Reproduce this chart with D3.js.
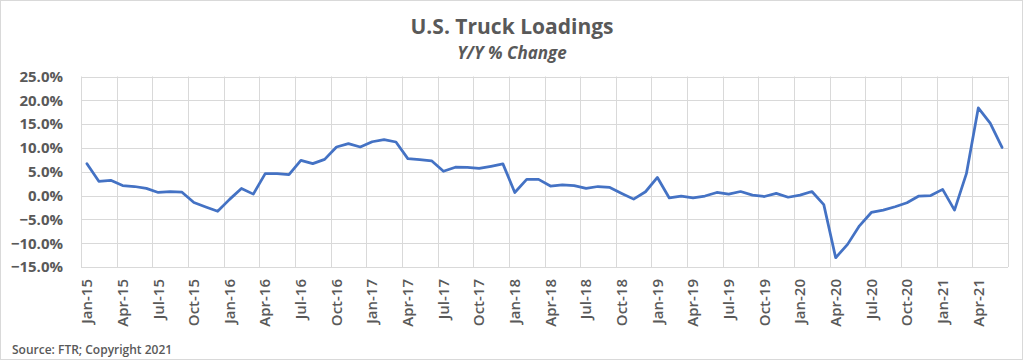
<!DOCTYPE html>
<html>
<head>
<meta charset="utf-8">
<script src="https://cdn.jsdelivr.net/npm/d3@7"></script>
<style>
  body { margin: 0; background: #fff; }
  svg { display: block; }
  text { fill: #595959; font-family: "Open Sans", sans-serif; }
</style>
</head>
<body>
<svg id="chart"></svg>
<script>
(function truckLoadings() {

  var months = ['Jan', 'Feb', 'Mar', 'Apr', 'May', 'Jun', 'Jul', 'Aug', 'Sep', 'Oct', 'Nov', 'Dec'];
  var years = ['15', '16', '17', '18', '19', '20', '21'];

  // y/y % change, Jan-15 .. Jun-21
  var values = [
    6.7, 3.0, 3.2, 2.1, 1.9, 1.5, 0.65, 0.85, 0.7, -1.45, -2.4, -3.3,
    -0.8, 1.5, 0.3, 4.6, 4.6, 4.4, 7.4, 6.7, 7.6, 10.2, 10.9, 10.2,
    11.3, 11.75, 11.25, 7.75, 7.55, 7.3, 5.1, 5.95, 5.9, 5.7, 6.15, 6.65,
    0.65, 3.4, 3.4, 2.0, 2.25, 2.1, 1.5, 1.9, 1.7, 0.45, -0.75, 0.8,
    3.8, -0.5, -0.1, -0.5, -0.1, 0.65, 0.3, 0.85, 0.1, -0.2, 0.45, -0.35,
    0.1, 0.85, -1.9, -13.05, -10.25, -6.35, -3.55, -3.05, -2.35, -1.5, -0.1, 0.0,
    1.3, -3.05, 4.6, 18.4, 15.2, 10.1
  ];

  var yTicks = [-15, -10, -5, 0, 5, 10, 15, 20, 25];

  var categories = [];
  years.forEach(function(y) {
    months.forEach(function(m) { categories.push(m + '-' + y); });
  });
  categories = categories.slice(0, values.length);

  var width = 1024,
    height = 363,
    margin = { top: 76.5, right: 16, bottom: 96, left: 81 };

  var svg = d3.select('#chart')
    .attr('width', width)
    .attr('height', height);

  svg.append('rect')
    .attr('x', 0.5).attr('y', 0.5)
    .attr('width', 1022).attr('height', 359)
    .attr('fill', '#fff')
    .attr('stroke', '#d9d9d9');

  var x = d3.scaleBand()
    .domain(categories)
    .range([margin.left, width - margin.right]);

  var y = d3.scaleLinear()
    .domain([-15, 25])
    .range([height - margin.bottom, margin.top]);

  var g = svg.append('g');

  // horizontal grid
  g.selectAll('.hgrid')
    .data(yTicks)
    .enter().append('line')
    .attr('x1', x.range()[0]).attr('x2', x.range()[1])
    .attr('y1', function(d) { return Math.round(y(d)) + 0.5; })
    .attr('y2', function(d) { return Math.round(y(d)) + 0.5; })
    .attr('stroke', '#d9d9d9');

  // vertical grid at every 3rd category boundary
  var bounds = d3.range(0, categories.length + 1, 3);
  g.selectAll('.vgrid')
    .data(bounds)
    .enter().append('line')
    .attr('x1', function(i) { return Math.round(x.range()[0] + i * x.step()) + 0.5; })
    .attr('x2', function(i) { return Math.round(x.range()[0] + i * x.step()) + 0.5; })
    .attr('y1', y(25)).attr('y2', y(-15))
    .attr('stroke', '#d9d9d9');

  // y axis labels
  var yAxis = d3.axisLeft(y)
    .tickValues(yTicks)
    .tickSize(0)
    .tickPadding(0)
    .tickFormat(function(d) { return d3.format('.1f')(d) + '%'; });

  var ya = svg.append('g')
    .attr('transform', 'translate(63,0)')
    .call(yAxis);
  ya.select('.domain').remove();
  ya.selectAll('text')
    .attr('fill', '#595959')
    .style('font-size', '15px')
    .style('font-weight', 700);

  // x axis labels
  var xAxis = d3.axisBottom(x)
    .tickValues(categories.filter(function(d, i) { return i % 3 === 0; }))
    .tickSize(0);

  var xa = svg.append('g')
    .attr('transform', 'translate(0,' + (height - margin.bottom) + ')')
    .call(xAxis);
  xa.select('.domain').remove();
  xa.selectAll('text')
    .attr('fill', '#595959')
    .style('font-size', '15px')
    .style('font-weight', 600)
    .attr('transform', 'rotate(-90)')
    .attr('text-anchor', 'end')
    .attr('x', -12)
    .attr('y', 0)
    .attr('dy', '0.35em');

  // line
  var line = d3.line()
    .x(function(d, i) { return x(categories[i]) + x.bandwidth() / 2; })
    .y(function(d) { return y(d); });

  svg.append('path')
    .datum(values)
    .attr('fill', 'none')
    .attr('stroke', '#4472c4')
    .attr('stroke-width', 2.75)
    .attr('stroke-linejoin', 'round')
    .attr('stroke-linecap', 'round')
    .attr('d', line);

  // titles
  svg.append('text')
    .attr('x', 512).attr('y', 34)
    .attr('text-anchor', 'middle')
    .style('font-size', '21px')
    .style('font-weight', 700)
    .text('U.S. Truck Loadings');

  svg.append('text')
    .attr('x', 512).attr('y', 59)
    .attr('text-anchor', 'middle')
    .style('font-size', '17px')
    .style('font-weight', 700)
    .style('font-style', 'italic')
    .text('Y/Y % Change');

  svg.append('text')
    .attr('x', 12).attr('y', 354)
    .style('font-size', '12px')
    .style('font-weight', 600)
    .text('Source: FTR; Copyright 2021');

})();
</script>
</body>
</html>
